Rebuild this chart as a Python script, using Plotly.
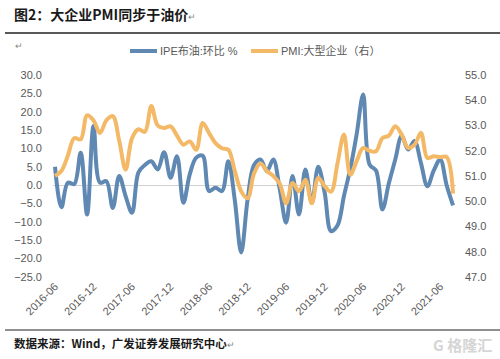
import pandas as pd
import plotly.graph_objects as go

# ---- data ----
months = [d.strftime("%Y-%m") for d in pd.date_range("2016-06-01", "2021-08-01", freq="MS")]

ipe_brent_mom = [
    5.0, -6.0, 0.7, 0.3, 8.8, -8.0, 16.1, 0.7, 1.1, -6.2,
    2.5, -3.0, -7.5, 3.5, 5.5, 6.5, 4.3, 9.0, 2.0, 7.9,
    -4.8, 3.0, 7.5, 8.0, -1.6, -0.7, -1.6, 6.5, -4.0, -18.3,
    -3.9, 5.5, 7.0, 3.8, 7.0, -1.0, -10.2, 2.5, -8.0, 4.3,
    -4.8, 5.0, -2.0, -12.5, -11.0, -3.0, 4.5, 14.0, 24.7, 5.6,
    4.0, -6.6, 0.5, 7.0, 13.4, 9.7, 12.0, 6.0, -0.3, 4.0,
    7.0, 0.0, -5.5,
]

pmi_large = [
    51.0, 51.2, 51.8, 52.5, 52.45, 53.4, 53.2, 52.7, 53.2, 53.37,
    52.4, 51.25, 52.5, 52.85, 52.75, 53.77, 53.0, 52.9, 52.97, 52.6,
    52.24, 52.37, 52.04, 53.1, 52.7, 52.3, 52.1, 52.04, 51.2, 50.4,
    50.12, 51.1, 51.5, 51.2, 51.0, 50.7, 49.92, 50.72, 50.4, 50.85,
    49.92, 50.92, 50.6, 50.38, 51.5, 52.64, 51.05, 51.6, 52.11, 52.0,
    51.98, 52.5, 52.6, 52.97, 52.64, 52.11, 52.24, 52.71, 51.71, 51.78,
    51.75, 51.75, 50.3,
]

tick_labels = ["2016-06", "2016-12", "2017-06", "2017-12", "2018-06", "2018-12",
               "2019-06", "2019-12", "2020-06", "2020-12", "2021-06"]

name_ipe = "IPE布油:环比 %"
name_pmi = "PMI:大型企业（右）"

# ---- layout geometry ----
WIDTH, HEIGHT = 500, 359
L, R, T, B = 53, 44, 75, 82
PW = WIDTH - L - R
PH = HEIGHT - T - B

def fx(x):
    return (x - L) / PW

def fy(y):
    return (HEIGHT - B - y) / PH

BLUE = "#5F88B2"
ORANGE = "#F4B967"
FONT = "Liberation Sans, Arial, Noto Sans CJK SC, sans-serif"
CJK = "Noto Sans CJK SC, sans-serif"

fig = go.Figure()
fig.add_trace(go.Scatter(x=months, y=ipe_brent_mom, name=name_ipe, mode="lines",
                         line=dict(color=BLUE, width=4, shape="spline", smoothing=1.0),
                         yaxis="y"))
fig.add_trace(go.Scatter(x=months, y=pmi_large, name=name_pmi, mode="lines",
                         line=dict(color=ORANGE, width=4, shape="spline", smoothing=1.0),
                         yaxis="y2"))

tick_font = dict(family=FONT, size=11, color="#595959")

fig.update_layout(
    width=WIDTH, height=HEIGHT,
    margin=dict(l=L, r=R, t=T, b=B, pad=0),
    paper_bgcolor="white", plot_bgcolor="white",
    showlegend=False,
    font=dict(family=FONT, size=11, color="#595959"),
    xaxis=dict(type="category", range=[-0.31, 62.46], tickmode="array",
               tickvals=tick_labels, ticktext=tick_labels, tickangle=-45,
               showgrid=False, zeroline=False, showline=False, ticks="",
               tickfont=tick_font),
    yaxis=dict(range=[-25, 30], dtick=5, tickformat=".1f", showgrid=False,
               zeroline=True, zerolinecolor="#D0D0D0", zerolinewidth=1,
               showline=False, ticks="", tickfont=tick_font, ticklabelstandoff=10),
    yaxis2=dict(range=[47, 55], dtick=1, tickformat=".1f", overlaying="y", side="right",
                showgrid=False, zeroline=False, showline=False, ticks="",
                tickfont=tick_font, ticklabelstandoff=8),
)

shapes = []
annotations = []

# title
annotations.append(dict(xref="paper", yref="paper", x=fx(12), y=fy(14),
                        xanchor="left", yanchor="middle", showarrow=False,
                        text="<b>图2：大企业PMI同步于油价</b><span style='font-size:9px;color:#888888'>↵</span>",
                        font=dict(family=CJK, size=14, color="#1A1A1A")))
shapes.append(dict(type="line", xref="paper", yref="paper", x0=fx(5), x1=fx(500),
                   y0=fy(33), y1=fy(33), line=dict(color="#222222", width=1.5)))
annotations.append(dict(xref="paper", yref="paper", x=fx(13), y=fy(45),
                        xanchor="left", yanchor="middle", showarrow=False,
                        text="↵", font=dict(family=CJK, size=9, color="#888888")))

# legend (manual)
shapes.append(dict(type="line", xref="paper", yref="paper", x0=fx(130), x1=fx(157),
                   y0=fy(51), y1=fy(51), line=dict(color=BLUE, width=4)))
annotations.append(dict(xref="paper", yref="paper", x=fx(158), y=fy(51),
                        xanchor="left", yanchor="middle", showarrow=False,
                        text=name_ipe, font=dict(family=FONT, size=11, color="#595959")))
shapes.append(dict(type="line", xref="paper", yref="paper", x0=fx(251), x1=fx(278),
                   y0=fy(51), y1=fy(51), line=dict(color=ORANGE, width=4)))
annotations.append(dict(xref="paper", yref="paper", x=fx(279), y=fy(51),
                        xanchor="left", yanchor="middle", showarrow=False,
                        text=name_pmi, font=dict(family=FONT, size=11, color="#595959")))

# footer
shapes.append(dict(type="line", xref="paper", yref="paper", x0=fx(5), x1=fx(500),
                   y0=fy(330), y1=fy(330), line=dict(color="#222222", width=1.2)))
annotations.append(dict(xref="paper", yref="paper", x=fx(12), y=fy(343),
                        xanchor="left", yanchor="middle", showarrow=False,
                        text="<b>数据来源：Wind，广发证券发展研究中心</b><span style='font-size:9px;color:#888888'>↵</span>",
                        font=dict(family=CJK, size=11.5, color="#1A1A1A")))
annotations.append(dict(xref="paper", yref="paper", x=fx(494), y=fy(344),
                        xanchor="right", yanchor="middle", showarrow=False,
                        text="<b>G 格隆汇</b>",
                        font=dict(family=CJK, size=15, color="#D5D5D5")))

fig.update_layout(shapes=shapes, annotations=annotations)

fig.write_html("out.html", config={"displayModeBar": False},
               post_script="document.body.style.margin='0px';")
